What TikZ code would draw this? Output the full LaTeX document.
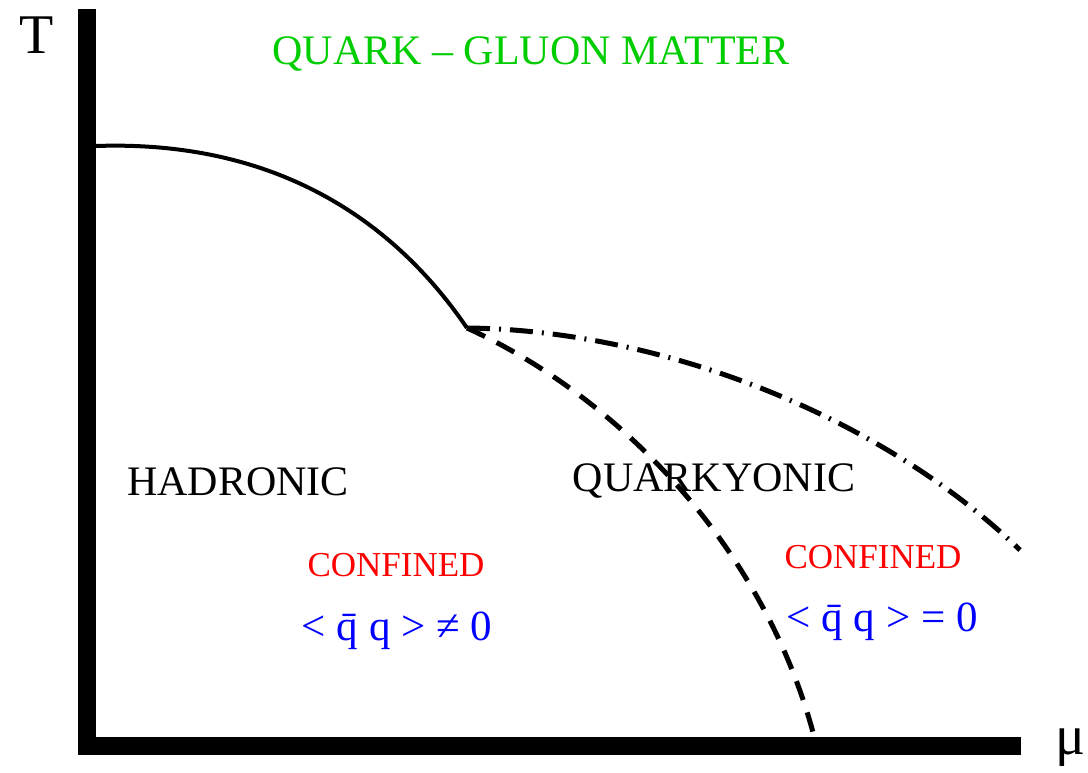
\documentclass[tikz,border=0pt]{standalone}
\usepackage{fontspec}
\setmainfont{Liberation Serif}
\usepackage{tikz}
\definecolor{qgreen}{RGB}{0,205,0}

\begin{document}
\begin{tikzpicture}[x=1pt,y=-1pt,line cap=butt,
  lbl/.style={font=\fontsize{42}{48}\selectfont,inner sep=0pt},
  conf/.style={font=\fontsize{35}{40}\selectfont,text=red,inner sep=0pt},
  cond/.style={font=\fontsize{43}{48}\selectfont,text=blue,inner sep=0pt},
  axlbl/.style={font=\fontsize{56}{60}\selectfont,inner sep=0pt}]
\useasboundingbox (0,0) rectangle (1088,773);
% axes
\coordinate (ttop) at (87,9);
\coordinate (origin) at (87,746);
\coordinate (mend) at (1021,746);
\draw[line width=18pt,line join=miter] (ttop) -- (origin) -- (mend);
\node[axlbl] (tlab) at (37,35) {T};
\node[axlbl] (mulab) at (1071,748) {μ};
% phase boundaries
\coordinate (tstart) at (96,146);
\coordinate (tcrit) at (467,328);
\coordinate (dend) at (815,740);
\coordinate (ddend) at (1020,550);
\draw[line width=4pt] (tstart) .. controls (270,140) and (390,215) .. (tcrit);
\draw[line width=5pt,dash pattern=on 20pt off 13pt] (tcrit) .. controls (615,395) and (765,545) .. (dend);
\draw[line width=5pt,dash pattern=on 23pt off 9pt on 2pt off 9pt] (tcrit) .. controls (660,330) and (880,415) .. (ddend);
% regions
\node[lbl,text=qgreen] (qgm) at (531,54) {QUARK – GLUON MATTER};
\node[lbl] (had) at (238,482) {HADRONIC};
\node[lbl] (qky) at (714,481) {QUARKYONIC};
\node[conf] (conf1) at (396,565) {CONFINED};
\node[conf] (conf2) at (873,557) {CONFINED};
\node[cond] (cond1) at (397,631) {< \=q q > ≠ 0};
\node[cond] (cond2) at (882,622) {< \=q q > = 0};
\end{tikzpicture}
\end{document}
